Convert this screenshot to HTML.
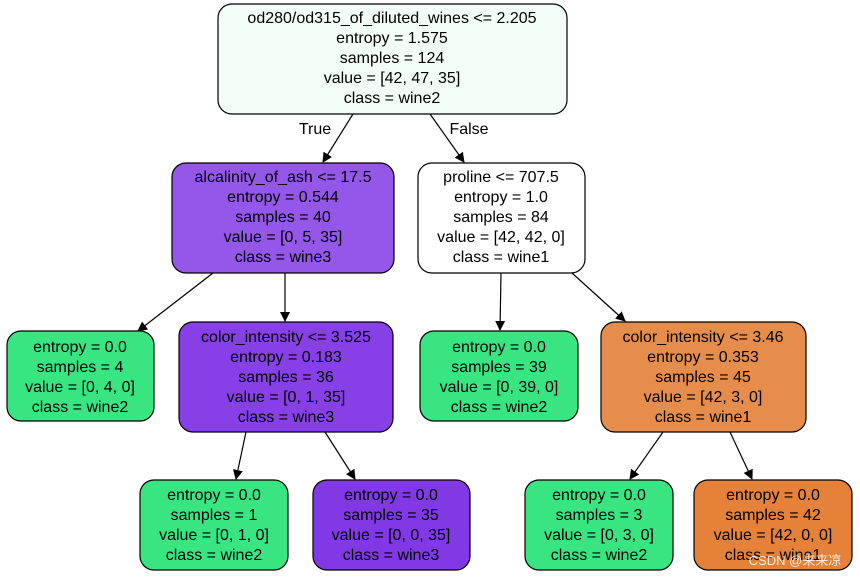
<!DOCTYPE html>
<html><head><meta charset="utf-8"><style>
html,body{margin:0;padding:0;background:#fff;}
svg{display:block;}
text{font-family:"Liberation Sans",Arial,sans-serif;font-size:16px;fill:#000;text-anchor:middle;}
</style></head><body>
<svg width="860" height="577" viewBox="0 0 860 577" xmlns="http://www.w3.org/2000/svg">
<defs><marker id="a" markerWidth="10" markerHeight="10" refX="9" refY="5" orient="auto" markerUnits="userSpaceOnUse"><path d="M0,0 L10,5 L0,10 z" fill="#000"/></marker></defs>
<g stroke="#000" stroke-width="1.2" fill="none">
<line x1="353" y1="114" x2="323" y2="162" marker-end="url(#a)"/>
<line x1="430" y1="114" x2="464" y2="162" marker-end="url(#a)"/>
<line x1="213" y1="273" x2="138" y2="331" marker-end="url(#a)"/>
<line x1="285" y1="273" x2="285" y2="321" marker-end="url(#a)"/>
<line x1="501" y1="273" x2="500" y2="330" marker-end="url(#a)"/>
<line x1="572" y1="273" x2="625" y2="321" marker-end="url(#a)"/>
<line x1="246" y1="432" x2="236" y2="479" marker-end="url(#a)"/>
<line x1="325" y1="432" x2="355" y2="479" marker-end="url(#a)"/>
<line x1="663" y1="432" x2="630" y2="479" marker-end="url(#a)"/>
<line x1="730" y1="432" x2="752" y2="479" marker-end="url(#a)"/>
</g>
<g stroke="#000" stroke-width="1.2">
<rect x="218" y="4" width="349" height="110" rx="14" fill="#f2fdf7"/>
<rect x="172" y="163" width="222" height="110" rx="14" fill="#9457e9"/>
<rect x="418" y="163" width="167" height="110" rx="14" fill="#ffffff"/>
<rect x="7" y="331" width="147" height="90" rx="14" fill="#39e581"/>
<rect x="179" y="322" width="214" height="110" rx="14" fill="#8640e6"/>
<rect x="420" y="331" width="158" height="90" rx="14" fill="#39e581"/>
<rect x="601" y="322" width="205" height="110" rx="14" fill="#e78d4b"/>
<rect x="140" y="480" width="148" height="90" rx="14" fill="#39e581"/>
<rect x="313" y="480" width="157" height="90" rx="14" fill="#8139e5"/>
<rect x="525" y="480" width="148" height="90" rx="14" fill="#39e581"/>
<rect x="694" y="480" width="158" height="90" rx="14" fill="#e58139"/>
</g>
<text x="315" y="134">True</text><text x="469" y="134">False</text>
<g>
<text x="392" y="23">od280/od315_of_diluted_wines &lt;= 2.205</text><text x="392" y="43">entropy = 1.575</text><text x="392" y="63">samples = 124</text><text x="392" y="83">value = [42, 47, 35]</text><text x="392" y="103">class = wine2</text>
<text x="283" y="182">alcalinity_of_ash &lt;= 17.5</text><text x="283" y="202">entropy = 0.544</text><text x="283" y="222">samples = 40</text><text x="283" y="242">value = [0, 5, 35]</text><text x="283" y="262">class = wine3</text>
<text x="501" y="182">proline &lt;= 707.5</text><text x="501" y="202">entropy = 1.0</text><text x="501" y="222">samples = 84</text><text x="501" y="242">value = [42, 42, 0]</text><text x="501" y="262">class = wine1</text>
<text x="80" y="352">entropy = 0.0</text><text x="80" y="372">samples = 4</text><text x="80" y="392">value = [0, 4, 0]</text><text x="80" y="412">class = wine2</text>
<text x="286" y="342">color_intensity &lt;= 3.525</text><text x="286" y="362">entropy = 0.183</text><text x="286" y="382">samples = 36</text><text x="286" y="402">value = [0, 1, 35]</text><text x="286" y="422">class = wine3</text>
<text x="499" y="352">entropy = 0.0</text><text x="499" y="372">samples = 39</text><text x="499" y="392">value = [0, 39, 0]</text><text x="499" y="412">class = wine2</text>
<text x="703" y="342">color_intensity &lt;= 3.46</text><text x="703" y="362">entropy = 0.353</text><text x="703" y="382">samples = 45</text><text x="703" y="402">value = [42, 3, 0]</text><text x="703" y="422">class = wine1</text>
<text x="214" y="500">entropy = 0.0</text><text x="214" y="520">samples = 1</text><text x="214" y="540">value = [0, 1, 0]</text><text x="214" y="560">class = wine2</text>
<text x="391" y="500">entropy = 0.0</text><text x="391" y="520">samples = 35</text><text x="391" y="540">value = [0, 0, 35]</text><text x="391" y="560">class = wine3</text>
<text x="599" y="500">entropy = 0.0</text><text x="599" y="520">samples = 3</text><text x="599" y="540">value = [0, 3, 0]</text><text x="599" y="560">class = wine2</text>
<text x="773" y="500">entropy = 0.0</text><text x="773" y="520">samples = 42</text><text x="773" y="540">value = [42, 0, 0]</text><text x="773" y="560">class = wine1</text>
</g>
<text x="795" y="565" style="font-size:13px;fill:#ffffff;opacity:0.85;font-family:'Liberation Sans','Noto Sans CJK SC',sans-serif">CSDN @来来凉</text>
</svg>
</body></html>
